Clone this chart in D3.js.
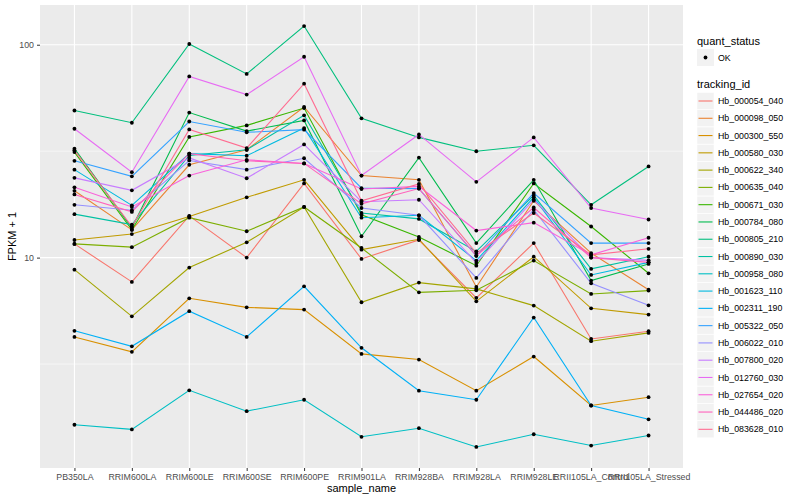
<!DOCTYPE html>
<html>
<head>
<meta charset="utf-8">
<script src="https://cdn.jsdelivr.net/npm/d3@7"></script>
<style>
  body { margin: 0; background: #fff; }
  text { font-family: "Liberation Sans", Arial, sans-serif; }
</style>
</head>
<body>
<svg id="chart" width="800" height="500"></svg>
<script>
// sample names (x categories)
const samples = ["PB350LA", "RRIM600LA", "RRIM600LE", "RRIM600SE", "RRIM600PE", "RRIM901LA",
  "RRIM928BA", "RRIM928LA", "RRIM928LE", "RRII105LA_Control", "RRII105LA_Stressed"];

const trackingIds = ["Hb_000054_040", "Hb_000098_050", "Hb_000300_550", "Hb_000580_030",
  "Hb_000622_340", "Hb_000635_040", "Hb_000671_030", "Hb_000784_080", "Hb_000805_210",
  "Hb_000890_030", "Hb_000958_080", "Hb_001623_110", "Hb_002311_190", "Hb_005322_050",
  "Hb_006022_010", "Hb_007800_020", "Hb_012760_030", "Hb_027654_020", "Hb_044486_020",
  "Hb_083628_010"];

// FPKM + 1, one array per tracking id, in sample order
const hb_000054_040 = [11.6, 7.69, 15.7, 10.0, 22.3, 9.86, 12.1, 6.47, 11.7, 4.15, 4.51];
const hb_000098_050 = [20.6, 13.5, 27.3, 32.1, 51.0, 24.3, 23.2, 7.28, 18.5, 10.5, 7.07];
const hb_000300_550 = [4.24, 3.61, 6.44, 5.84, 5.70, 3.53, 3.32, 2.37, 3.43, 2.02, 2.21];
const hb_000580_030 = [12.1, 12.9, 15.6, 19.2, 23.2, 10.9, 12.2, 6.23, 10.1, 5.78, 5.40];
const hb_000622_340 = [8.78, 5.30, 8.98, 11.8, 17.3, 6.17, 7.63, 7.13, 5.95, 4.05, 4.43];
const hb_000635_040 = [11.6, 11.2, 15.4, 13.3, 17.3, 11.1, 6.87, 7.02, 9.68, 6.75, 7.00];
const hb_000671_030 = [31.3, 13.5, 36.9, 41.8, 50.4, 15.9, 12.5, 9.17, 22.3, 14.0, 8.44];
const hb_000784_080 = [32.5, 13.8, 48.0, 39.3, 44.1, 12.6, 29.5, 11.7, 23.2, 7.80, 9.34];
const hb_000805_210 = [49.1, 43.0, 100.8, 72.9, 122.4, 45.1, 36.7, 31.6, 33.7, 17.7, 26.8];
const hb_000890_030 = [16.0, 14.3, 30.2, 32.1, 46.6, 16.2, 15.2, 10.7, 19.6, 8.85, 10.1];
const hb_000958_080 = [1.64, 1.56, 2.38, 1.90, 2.15, 1.44, 1.58, 1.29, 1.48, 1.31, 1.46];
const hb_001623_110 = [25.9, 17.6, 30.8, 30.1, 40.6, 15.4, 15.8, 9.68, 19.2, 8.29, 9.50];
const hb_002311_190 = [4.53, 3.83, 5.60, 4.24, 7.33, 3.77, 2.37, 2.15, 5.23, 2.02, 1.74];
const hb_005322_050 = [28.5, 24.1, 43.6, 38.8, 39.9, 21.2, 21.1, 10.2, 20.1, 11.7, 11.7];
const hb_006022_010 = [17.7, 16.7, 28.6, 25.9, 29.3, 17.1, 15.8, 8.03, 16.8, 7.57, 5.97];
const hb_007800_020 = [23.7, 20.7, 29.4, 23.6, 34.0, 18.3, 18.7, 9.44, 18.7, 10.0, 9.71];
const hb_012760_030 = [40.3, 25.2, 71.0, 58.3, 87.8, 24.3, 37.9, 22.7, 36.7, 17.1, 15.1];
const hb_027654_020 = [21.4, 17.3, 24.3, 28.8, 27.7, 21.0, 21.6, 13.4, 14.6, 10.3, 12.4];
const hb_044486_020 = [19.8, 16.4, 30.8, 28.5, 27.7, 17.9, 21.1, 10.2, 17.2, 10.0, 9.50];
const hb_083628_010 = [31.9, 14.0, 40.0, 32.7, 65.6, 18.5, 22.2, 10.5, 16.2, 10.3, 11.0];

const seriesValues = [hb_000054_040, hb_000098_050, hb_000300_550, hb_000580_030, hb_000622_340,
  hb_000635_040, hb_000671_030, hb_000784_080, hb_000805_210, hb_000890_030, hb_000958_080,
  hb_001623_110, hb_002311_190, hb_005322_050, hb_006022_010, hb_007800_020, hb_012760_030,
  hb_027654_020, hb_044486_020, hb_083628_010];

// ggplot default hue palette, 20 levels
const palette = ["#F8766D", "#EA8331", "#D89000", "#C09B00", "#A3A500", "#7CAE00", "#39B600",
  "#00BB4E", "#00BF7D", "#00C1A3", "#00BFC4", "#00BAE0", "#00B0F6", "#35A2FF", "#9590FF",
  "#C77CFF", "#E76BF3", "#FA62DB", "#FF62BC", "#FF6C91"];

const series = trackingIds.map((id, i) => ({
  id,
  values: samples.map((s, j) => ({ sample: s, value: seriesValues[i][j] }))
}));

const svg = d3.select("#chart");
const panel = { left: 40, right: 683, top: 5, bottom: 468 };

const x = d3.scalePoint()
  .domain(samples)
  .range([panel.left, panel.right])
  .padding(0.6);

// log scale with ggplot-style 5% expansion
const allVals = seriesValues.flat();
const lo = Math.log10(d3.min(allVals)), hi = Math.log10(d3.max(allVals));
const pad = (hi - lo) * 0.05;
const y = d3.scaleLog()
  .domain([Math.pow(10, lo - pad), Math.pow(10, hi + pad)])
  .range([panel.bottom, panel.top]);

const color = d3.scaleOrdinal().domain(trackingIds).range(palette);

// panel background
svg.append("rect")
  .attr("x", panel.left).attr("y", panel.top)
  .attr("width", panel.right - panel.left).attr("height", panel.bottom - panel.top)
  .attr("fill", "#EBEBEB");

const grid = svg.append("g");
// minor y grid
[Math.sqrt(10), Math.sqrt(1000)].forEach(v => {
  grid.append("line")
    .attr("x1", panel.left).attr("x2", panel.right)
    .attr("y1", y(v)).attr("y2", y(v))
    .attr("stroke", "#fff").attr("stroke-width", 0.55);
});
// major y grid
[10, 100].forEach(v => {
  grid.append("line")
    .attr("x1", panel.left).attr("x2", panel.right)
    .attr("y1", y(v)).attr("y2", y(v))
    .attr("stroke", "#fff").attr("stroke-width", 1.1);
});
// x grid
samples.forEach(s => {
  grid.append("line")
    .attr("x1", x(s)).attr("x2", x(s))
    .attr("y1", panel.top).attr("y2", panel.bottom)
    .attr("stroke", "#fff").attr("stroke-width", 1.1);
});

const line = d3.line()
  .x(d => x(d.sample))
  .y(d => y(d.value));

svg.append("g")
  .selectAll("path")
  .data(series)
  .enter().append("path")
  .attr("d", d => line(d.values))
  .attr("fill", "none")
  .attr("stroke", d => color(d.id))
  .attr("stroke-width", 1.1);

svg.append("g")
  .selectAll("circle")
  .data(series.flatMap(d => d.values))
  .enter().append("circle")
  .attr("cx", d => x(d.sample))
  .attr("cy", d => y(d.value))
  .attr("r", 1.9)
  .attr("fill", "#000");

// axes
const xAxis = svg.append("g")
  .attr("transform", `translate(0,${panel.bottom})`)
  .call(d3.axisBottom(x).tickSize(3).tickPadding(3));
const yAxis = svg.append("g")
  .attr("transform", `translate(${panel.left},0)`)
  .call(d3.axisLeft(y).tickValues([10, 100]).tickFormat(d3.format("d")).tickSize(3).tickPadding(3));

[xAxis, yAxis].forEach(a => {
  a.select(".domain").remove();
  a.selectAll(".tick line").attr("stroke", "#333").attr("stroke-width", 1);
  a.selectAll(".tick text")
    .attr("fill", "#4D4D4D")
    .style("font-size", "8.8px")
    .style("font-family", "'Liberation Sans', Arial, sans-serif");
});

// axis titles
svg.append("text")
  .attr("x", (panel.left + panel.right) / 2).attr("y", 492)
  .attr("text-anchor", "middle")
  .style("font-size", "11px")
  .text("sample_name");
svg.append("text")
  .attr("transform", `translate(16,${(panel.top + panel.bottom) / 2}) rotate(-90)`)
  .attr("text-anchor", "middle")
  .style("font-size", "11px")
  .text("FPKM + 1");

// legends
const legend = svg.append("g").attr("transform", "translate(697,0)");

legend.append("text").attr("x", 0).attr("y", 45)
  .style("font-size", "11px").text("quant_status");
legend.append("rect").attr("x", 0).attr("y", 49).attr("width", 17).attr("height", 17)
  .attr("fill", "#F2F2F2");
legend.append("circle").attr("cx", 8.5).attr("cy", 57.5).attr("r", 1.9).attr("fill", "#000");
legend.append("text").attr("x", 21).attr("y", 60.5)
  .style("font-size", "8.8px").text("OK");

legend.append("text").attr("x", 0).attr("y", 88)
  .style("font-size", "11px").text("tracking_id");

const keys = legend.selectAll("g.key")
  .data(trackingIds)
  .enter().append("g")
  .attr("class", "key")
  .attr("transform", (d, i) => `translate(0,${92.5 + i * 17.28})`);

keys.append("rect")
  .attr("width", 17).attr("height", 17)
  .attr("fill", "#F2F2F2")
  .attr("stroke", "#fff").attr("stroke-width", 0.5);
keys.append("line")
  .attr("x1", 1.5).attr("x2", 15.5)
  .attr("y1", 8.5).attr("y2", 8.5)
  .attr("stroke", d => color(d))
  .attr("stroke-width", 1.1);
keys.append("text")
  .attr("x", 21).attr("y", 11.6)
  .style("font-size", "8.8px")
  .text(d => d);
</script>
</body>
</html>
